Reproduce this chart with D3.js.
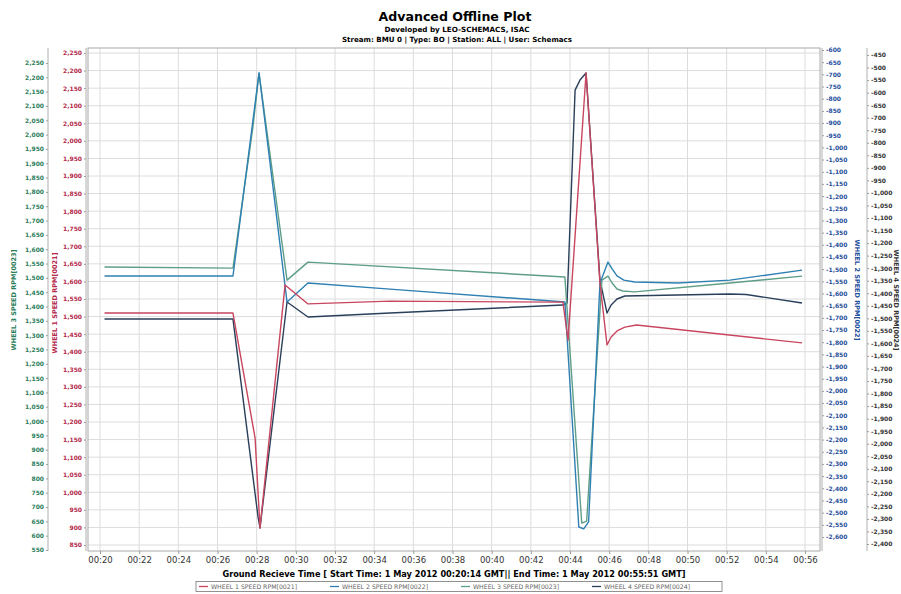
<!DOCTYPE html>
<html>
<head>
<meta charset="utf-8">
<script src="https://cdn.jsdelivr.net/npm/d3@7"></script>
<style>
body { margin: 0; background: #fff; }
svg { display: block; font-family: "DejaVu Sans", sans-serif; }
</style>
</head>
<body>
<svg id="chart" width="901" height="594"></svg>
<script>
// times are minutes after 00:00 GMT, values are wheel speeds in RPM
var seriesNames = ["WHEEL 1 SPEED RPM[0021]", "WHEEL 2 SPEED RPM[0022]", "WHEEL 3 SPEED RPM[0023]", "WHEEL 4 SPEED RPM[0024]"];
var timeTicks = d3.range(20, 57, 2);
var w1Ticks = d3.range(850, 2251, 50);
var w2Ticks = d3.range(-2600, -599, 50);
var w3Ticks = d3.range(550, 2251, 50);
var w4Ticks = d3.range(-2400, -449, 50);

var wheel1 = [[20.23,1510],[26.79,1510],[27.92,1154],[28.17,898],[29.45,1590],[30.62,1536],[34.81,1544],[43.64,1541],
  [43.9,1433],[44.82,2193],[45.53,1595],[45.89,1419],[46.1,1442],[46.4,1459],[46.8,1470],[47.4,1476],[55.85,1425]];
var wheel2 = [[20.23,-1528],[26.79,-1528],[28.12,-694],[29.55,-1635],[30.62,-1557],[34.81,-1582],[43.74,-1635],
  [44.45,-2559],[44.7,-2567],[44.95,-2538],[45.53,-1557],[45.94,-1471],[46.15,-1499],[46.4,-1528],[46.75,-1545],
  [47.3,-1553],[49.5,-1557],[52.17,-1545],[55.85,-1504]];
var wheel3 = [[20.23,1538],[26.79,1534],[27.81,2027],[28.12,2215],[29.55,1492],[30.62,1555],[43.74,1503],
  [44.6,644],[44.85,651],[45.63,1492],[45.94,1506],[46.15,1482],[46.4,1461],[46.7,1454],[47.3,1451],
  [52.17,1482],[55.85,1506]];
var wheel4 = [[20.23,-1503],[26.79,-1503],[28.07,-2292],[28.17,-2336],[29.55,-1435],[30.62,-1495],[34.81,-1479],
  [43.64,-1447],[43.85,-1439],[44.26,-590],[44.51,-550],[44.82,-522],[45.53,-1347],[45.89,-1479],[46.1,-1447],
  [46.4,-1423],[46.8,-1411],[52.17,-1403],[53,-1405],[55.85,-1439]];

var svg = d3.select('#chart');
var plotLeft = 88, plotRight = 820, plotTop = 48, plotBottom = 551;

var x = d3.scaleLinear().domain([19.387, 56.766]).range([plotLeft, plotRight]);
var y1 = d3.scaleLinear().domain([850, 2250]).range([545, 53]);
var y2 = d3.scaleLinear().domain([-2600, -600]).range([537, 50]);
var y3 = d3.scaleLinear().domain([550, 2250]).range([550, 63]);
var y4 = d3.scaleLinear().domain([-2400, -450]).range([544, 55]);

var colors = ['#c8465f', '#2f80b2', '#5f9e86', '#2a3f5a'];
var labelColors = ['#b3284a', '#1f4f9c', '#2c7d5b', '#333'];
var comma = d3.format(',');
function fmt(d) { return comma(d).replace('\u2212', '-'); }

// titles
svg.append('text').attr('x', 455).attr('y', 21).attr('text-anchor', 'middle')
  .attr('font-size', '12.6px').attr('font-weight', 'bold').text('Advanced Offline Plot');
svg.append('text').attr('x', 457).attr('y', 32).attr('text-anchor', 'middle')
  .attr('font-size', '7.2px').attr('font-weight', 'bold').text('Developed by LEO-SCHEMACS, ISAC');
svg.append('text').attr('x', 457).attr('y', 41.5).attr('text-anchor', 'middle')
  .attr('font-size', '7.1px').attr('font-weight', 'bold').text('Stream: BMU  0 | Type: BO | Station: ALL | User: Schemacs');

// grid
svg.append('g').selectAll('line').data(timeTicks).enter().append('line')
  .attr('x1', function (d) { return x(d); }).attr('x2', function (d) { return x(d); })
  .attr('y1', plotTop).attr('y2', plotBottom)
  .attr('stroke', '#dcdcdc').attr('stroke-width', 1);
svg.append('g').selectAll('line').data(w1Ticks).enter().append('line')
  .attr('x1', plotLeft).attr('x2', plotRight)
  .attr('y1', function (d) { return y1(d); }).attr('y2', function (d) { return y1(d); })
  .attr('stroke', '#dcdcdc').attr('stroke-width', 1);

// lines
svg.append('clipPath').attr('id', 'clip').append('rect')
  .attr('x', plotLeft).attr('y', plotTop).attr('width', plotRight - plotLeft).attr('height', plotBottom - plotTop);
var series = [
  { data: wheel4, y: y4, color: colors[3] },
  { data: wheel3, y: y3, color: colors[2] },
  { data: wheel2, y: y2, color: colors[1] },
  { data: wheel1, y: y1, color: colors[0] }
];
var lines = svg.append('g').attr('clip-path', 'url(#clip)');
series.forEach(function (s) {
  var line = d3.line()
    .x(function (d) { return x(d[0]); })
    .y(function (d) { return s.y(d[1]); });
  lines.append('path').datum(s.data)
    .attr('d', line)
    .attr('fill', 'none')
    .attr('stroke', s.color)
    .attr('stroke-width', 1.4)
    .attr('stroke-linejoin', 'round');
});

svg.append('rect').attr('x', plotLeft).attr('y', plotTop)
  .attr('width', plotRight - plotLeft).attr('height', plotBottom - plotTop)
  .attr('fill', 'none').attr('stroke', '#a8a8a8');

// y axes
function yAxis(axis, xpos, color, ticks) {
  var g = svg.append('g').attr('transform', 'translate(' + xpos + ',0)')
    .call(axis.tickValues(ticks).tickSize(2).tickSizeOuter(0).tickPadding(2).tickFormat(fmt));
  g.select('.domain').remove();
  g.append('line').attr('y1', plotTop).attr('y2', plotBottom).attr('stroke', '#b0b0b0');
  g.selectAll('.tick line').attr('stroke', '#999');
  g.selectAll('text').attr('fill', color).attr('font-size', '6px').attr('font-weight', 'bold')
    .attr('font-family', '"DejaVu Sans", sans-serif');
}
yAxis(d3.axisLeft(y3), 48, labelColors[2], w3Ticks);
yAxis(d3.axisLeft(y1), 86, labelColors[0], w1Ticks);
yAxis(d3.axisRight(y2), 822, labelColors[1], w2Ticks);
yAxis(d3.axisRight(y4), 867, labelColors[3], w4Ticks);

// axis titles
svg.append('text').attr('transform', 'translate(16,300) rotate(-90)').attr('text-anchor', 'middle')
  .attr('font-size', '6.5px').attr('font-weight', 'bold').attr('fill', labelColors[2]).text(seriesNames[2]);
svg.append('text').attr('transform', 'translate(57,303) rotate(-90)').attr('text-anchor', 'middle')
  .attr('font-size', '6.5px').attr('font-weight', 'bold').attr('fill', labelColors[0]).text(seriesNames[0]);
svg.append('text').attr('transform', 'translate(855,290) rotate(90)').attr('text-anchor', 'middle')
  .attr('font-size', '6.5px').attr('font-weight', 'bold').attr('fill', labelColors[1]).text(seriesNames[1]);
svg.append('text').attr('transform', 'translate(894,300) rotate(90)').attr('text-anchor', 'middle')
  .attr('font-size', '6.5px').attr('font-weight', 'bold').attr('fill', labelColors[3]).text(seriesNames[3]);

// x axis
var xg = svg.append('g').attr('transform', 'translate(0,' + plotBottom + ')')
  .call(d3.axisBottom(x).tickValues(timeTicks).tickSize(3).tickSizeOuter(0).tickPadding(3)
    .tickFormat(function (d) { return '00:' + d3.format('02d')(d); }));
xg.select('.domain').remove();
xg.selectAll('.tick line').attr('stroke', '#999');
xg.selectAll('text').attr('fill', '#333').attr('font-size', '8.5px')
  .attr('font-family', '"DejaVu Sans", sans-serif');

svg.append('text').attr('x', 454).attr('y', 577).attr('text-anchor', 'middle')
  .attr('font-size', '8.2px').attr('font-weight', 'bold')
  .text('Ground Recieve Time [ Start Time: 1 May 2012 00:20:14 GMT|| End Time: 1 May 2012 00:55:51 GMT]');

// legend
svg.append('rect').attr('x', 196).attr('y', 581.5).attr('width', 526).attr('height', 10)
  .attr('fill', '#fff').attr('stroke', '#777').attr('stroke-width', 0.8);
var lg = svg.append('g').selectAll('g').data(seriesNames).enter().append('g')
  .attr('transform', function (d, i) { return 'translate(' + (199 + i * 131) + ',586.5)'; });
lg.append('line').attr('x1', 0).attr('x2', 9).attr('stroke', function (d, i) { return colors[i]; })
  .attr('stroke-width', 1.3);
lg.append('text').attr('x', 12).attr('y', 2.2).attr('font-size', '6.2px').attr('fill', '#666')
  .text(function (d) { return d; });
</script>
</body>
</html>
